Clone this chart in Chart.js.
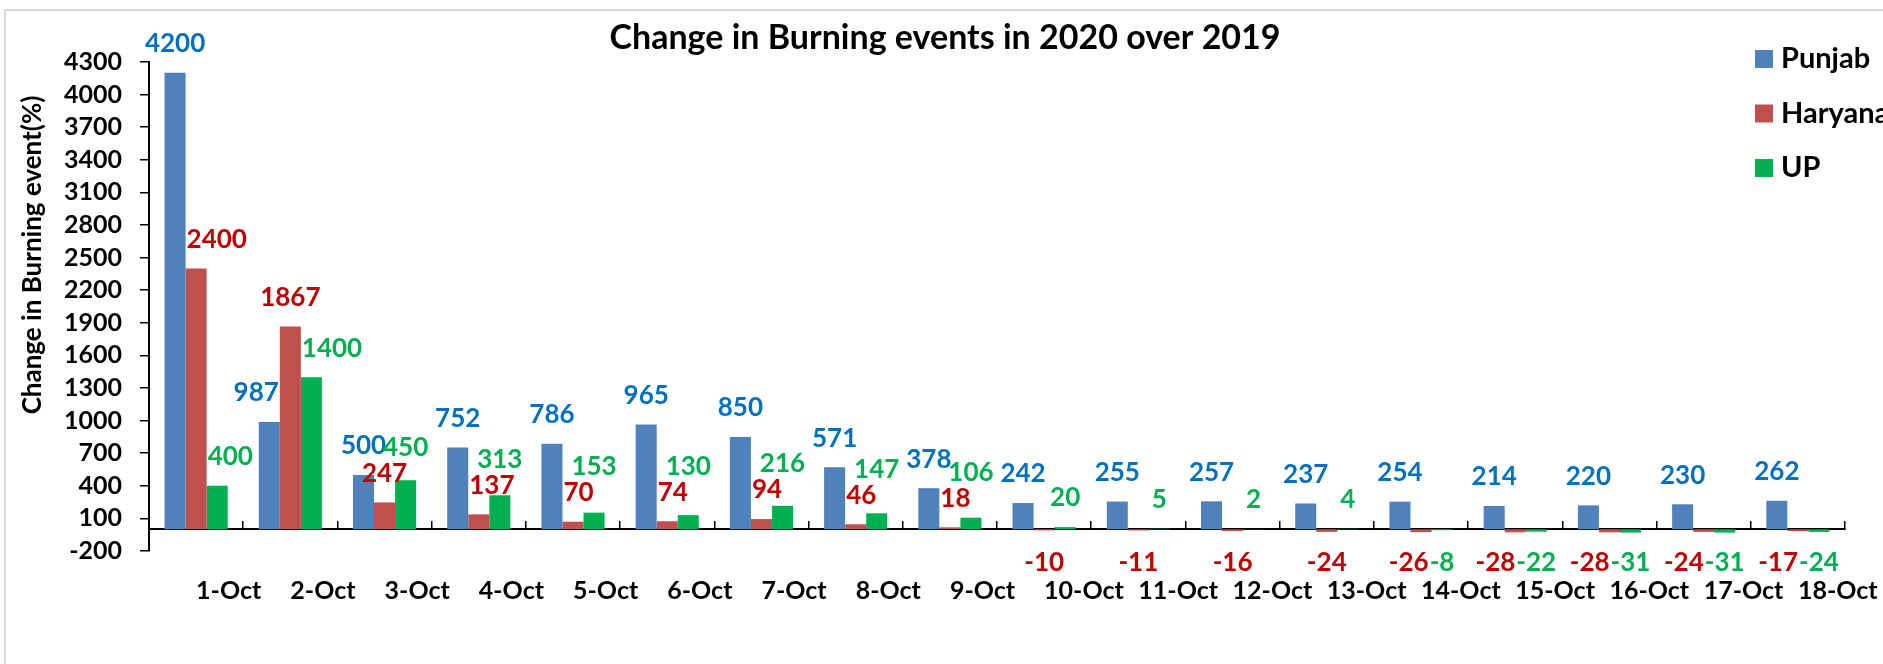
<!DOCTYPE html>
<html>
<head>
  <title>Change in Burning events in 2020 over 2019</title>
  <script src="https://cdn.jsdelivr.net/npm/chart.js"></script>
  <style>
    html, body { margin: 0; padding: 0; background: #fff; }
  </style>
</head>
<body>
  <canvas id="chart" width="1883" height="664"></canvas>
  <script>
    const days = ['1-Oct', '2-Oct', '3-Oct', '4-Oct', '5-Oct', '6-Oct', '7-Oct', '8-Oct', '9-Oct',
                  '10-Oct', '11-Oct', '12-Oct', '13-Oct', '14-Oct', '15-Oct', '16-Oct', '17-Oct', '18-Oct'];
    const punjab  = [4200, 987, 500, 752, 786, 965, 850, 571, 378, 242, 255, 257, 237, 254, 214, 220, 230, 262];
    const haryana = [2400, 1867, 247, 137, 70, 74, 94, 46, 18, -10, -11, -16, -24, -26, -28, -28, -24, -17];
    const up      = [400, 1400, 450, 313, 153, 130, 216, 147, 106, 20, 5, 2, 4, -8, -22, -31, -31, -24];

    const FONT = 'Lato';

    // numbers over / under the bars. A label is slid sideways off a taller
    // neighbouring bar, then lifted if it still hits an earlier label;
    // negative labels sit under the axis and are pushed apart sideways.
    const valueLabels = {
      id: 'valueLabels',
      afterDatasetsDraw(chart) {
        const ctx = chart.ctx;
        const yScale = chart.scales.y;
        const boxH = 26, slack = 4;
        ctx.save();
        ctx.font = 'bold 26px ' + FONT;
        ctx.textAlign = 'center';
        ctx.textBaseline = 'middle';
        const metas = chart.data.datasets.map((ds, i) => chart.getDatasetMeta(i));
        chart.data.labels.forEach((lab, j) => {
          const placed = [];
          const negs = [];
          const bars = metas.map(m => m.data[j]);
          chart.data.datasets.forEach((ds, i) => {
            const bar = bars[i];
            const v = ds.data[j];
            const text = String(v);
            const w = ctx.measureText(text).width;
            const item = { text, w, x: bar.x, color: ds.labelColor };
            if (v >= 0) {
              item.y = bar.y - 29;
              let minLeft = -Infinity, maxRight = Infinity;
              bars.forEach((b, k) => {
                if (k === i || chart.data.datasets[k].data[j] < 0 || b.y >= item.y) return;
                if (b.x < bar.x) minLeft = Math.max(minLeft, b.x + b.width / 2 + 1);
                else maxRight = Math.min(maxRight, b.x - b.width / 2 - 1);
              });
              if (item.x - w / 2 < minLeft) item.x = minLeft + w / 2;
              if (item.x + w / 2 > maxRight) item.x = maxRight - w / 2;
              let moved = true;
              while (moved) {
                moved = false;
                for (const p of placed) {
                  const dx = Math.abs(p.x - item.x) - (p.w + item.w) / 2;
                  const dy = Math.abs(p.y - item.y);
                  if (dx < -slack && dy < boxH) {
                    item.y = p.y - boxH;
                    moved = true;
                  }
                }
              }
              placed.push(item);
            } else {
              item.y = yScale.bottom + 12;
              negs.push(item);
            }
          });
          for (let k = negs.length - 2; k >= 0; k--) {
            const a = negs[k], b = negs[k + 1];
            const right = b.x - b.w / 2 - 1;
            if (a.x + a.w / 2 > right) a.x = right - a.w / 2;
          }
          placed.concat(negs).forEach(it => {
            ctx.fillStyle = it.color;
            ctx.fillText(it.text, it.x, it.y);
          });
        });
        ctx.restore();
      }
    };

    // frame, titles and legend
    const decorations = {
      id: 'decorations',
      beforeDraw(chart) {
        const ctx = chart.ctx;
        ctx.save();
        ctx.strokeStyle = '#d9d9d9';
        ctx.lineWidth = 2;
        ctx.beginPath();
        ctx.moveTo(5, chart.height);
        ctx.lineTo(5, 10);
        ctx.lineTo(chart.width, 10);
        ctx.stroke();
        ctx.restore();
      },
      afterDraw(chart) {
        const ctx = chart.ctx;
        ctx.save();
        ctx.fillStyle = '#000';
        ctx.textAlign = 'center';
        ctx.textBaseline = 'middle';
        ctx.font = 'bold 34px ' + FONT;
        ctx.fillText('Change in Burning events in 2020 over 2019', 945, 38);
        ctx.font = 'bold 26px ' + FONT;
        ctx.translate(33, 255);
        ctx.rotate(-Math.PI / 2);
        ctx.fillText('Change in Burning event(%)', 0, 0);
        ctx.restore();

        ctx.save();
        ctx.font = 'bold 29px ' + FONT;
        ctx.textAlign = 'left';
        ctx.textBaseline = 'middle';
        chart.data.datasets.forEach((ds, i) => {
          const cy = 59 + i * 54.5;
          ctx.fillStyle = ds.backgroundColor;
          ctx.fillRect(1755, cy - 9, 18, 18);
          ctx.fillStyle = '#000';
          ctx.fillText(ds.label, 1781, cy);
        });
        ctx.restore();
      }
    };

    new Chart(document.getElementById('chart'), {
      type: 'bar',
      data: {
        labels: days,
        datasets: [
          { label: 'Punjab', data: punjab, backgroundColor: '#4F81BD', labelColor: '#0070C0' },
          { label: 'Haryana', data: haryana, backgroundColor: '#C0504D', labelColor: '#C00000' },
          { label: 'UP', data: up, backgroundColor: '#00B050', labelColor: '#00B050' }
        ]
      },
      options: {
        responsive: false,
        animation: false,
        devicePixelRatio: 1,
        categoryPercentage: 0.67,
        barPercentage: 1.0,
        layout: { padding: { left: 0, right: 38, top: 62, bottom: 113 } },
        plugins: {
          legend: { display: false },
          tooltip: { enabled: false },
          title: { display: false }
        },
        scales: {
          x: {
            position: { y: 0 },
            grid: { display: true, drawOnChartArea: false, drawTicks: true, tickLength: -9, color: '#000', lineWidth: 1.5 },
            border: { display: true, color: '#000', width: 2 },
            ticks: {
              color: '#000',
              font: { family: FONT, size: 25, weight: 'bold' },
              align: 'start',
              padding: 56,
              maxRotation: 0,
              autoSkip: false
            },
            afterFit(s) { s.paddingLeft = 0; s.paddingRight = 0; }
          },
          y: {
            min: -200,
            max: 4300,
            ticks: {
              stepSize: 300,
              maxTicksLimit: 20,
              autoSkip: false,
              callback: v => String(v),
              color: '#000',
              font: { family: FONT, size: 25, weight: 'bold' },
              padding: 18
            },
            grid: { drawOnChartArea: false, drawTicks: true, tickLength: 9, color: '#000', lineWidth: 1.5 },
            border: { display: true, color: '#000', width: 2 },
            afterFit(s) { s.width = 149; }
          }
        }
      },
      plugins: [valueLabels, decorations]
    });
  </script>
</body>
</html>
